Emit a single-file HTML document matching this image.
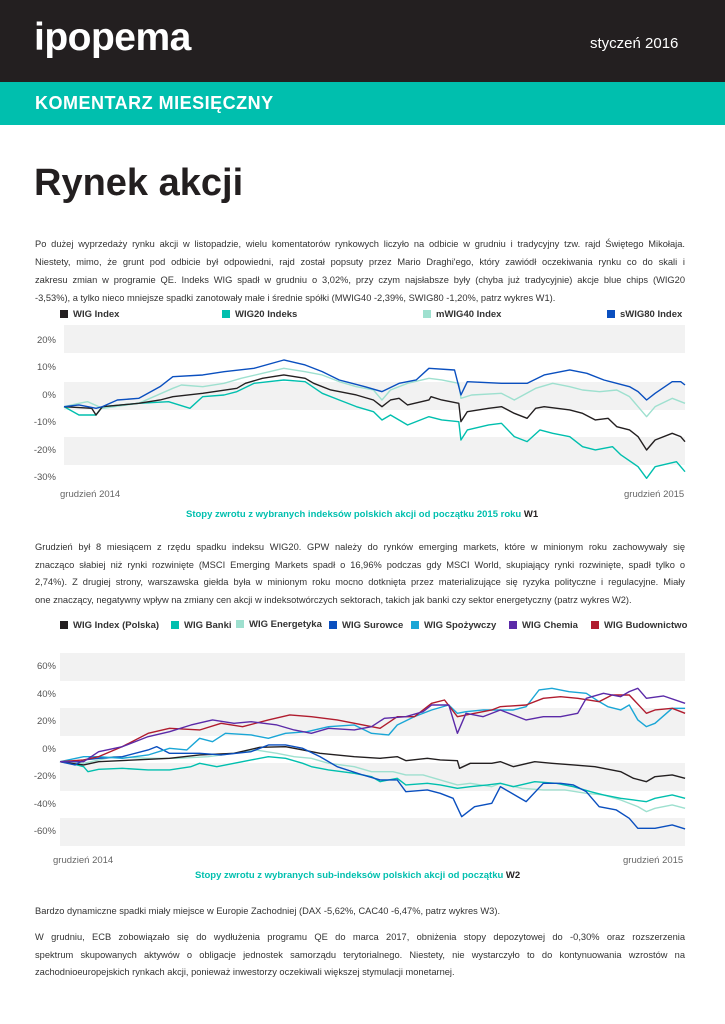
<!DOCTYPE html>
<html><head><meta charset="utf-8"><style>
*{margin:0;padding:0;box-sizing:border-box}
body{width:725px;height:1024px;background:#fff;position:relative;overflow:hidden;font-family:"Liberation Sans",sans-serif;color:#231f20}
.a{position:absolute;white-space:nowrap}
.p{position:absolute;left:35px;width:650px;font-size:9.3px;text-align:justify;text-align-last:justify;white-space:nowrap;color:#333}
.lg{position:absolute;font-size:9.5px;font-weight:bold;color:#333;white-space:nowrap}
.lg i{display:inline-block;width:8px;height:8px;margin-right:5px;vertical-align:-1px}
.yl{position:absolute;font-size:9.5px;color:#555;text-align:right;width:26px}
</style></head><body>
<div class="a" style="left:0;top:0;width:725px;height:82px;background:#231f20"></div>
<div class="a" style="left:34px;top:16px;font-size:39px;font-weight:bold;color:#fff;letter-spacing:-0.5px">ipopema</div>
<div class="a" style="left:590px;top:35px;font-size:15px;color:#fff">styczeń 2016</div>
<div class="a" style="left:0;top:82px;width:725px;height:43px;background:#00bfae"></div>
<div class="a" style="left:35px;top:93px;font-size:18px;font-weight:bold;color:#fff;letter-spacing:0.5px">KOMENTARZ MIESIĘCZNY</div>
<div class="a" style="left:34px;top:162px;font-size:38px;font-weight:bold;color:#231f20">Rynek akcji</div>

<div class="p" style="top:239px">Po dużej wyprzedaży rynku akcji w listopadzie, wielu komentatorów rynkowych liczyło na odbicie w grudniu i tradycyjny tzw. rajd Świętego Mikołaja.</div>
<div class="p" style="top:257px">Niestety, mimo, że grunt pod odbicie był odpowiedni, rajd został popsuty przez Mario Draghi'ego, który zawiódł oczekiwania rynku co do skali i</div>
<div class="p" style="top:275px">zakresu zmian w programie QE. Indeks WIG spadł w grudniu o 3,02%, przy czym najsłabsze były (chyba już tradycyjnie) akcje blue chips (WIG20</div>
<div class="p" style="top:293px;text-align-last:left">-3,53%), a tylko nieco mniejsze spadki zanotowały małe i średnie spółki (MWIG40 -2,39%, SWIG80 -1,20%, patrz wykres W1).</div>

<div class="lg" style="left:60px;top:309px"><i style="background:#231f20"></i>WIG Index</div>
<div class="lg" style="left:222px;top:309px"><i style="background:#00bfae"></i>WIG20 Indeks</div>
<div class="lg" style="left:423px;top:309px"><i style="background:#9ee0cf"></i>mWIG40 Index</div>
<div class="lg" style="left:607px;top:309px"><i style="background:#0a4fbf"></i>sWIG80 Index</div>

<div class="a" style="left:64px;top:325px;width:621px;height:28px;background:#f2f2f2"></div>
<div class="a" style="left:64px;top:382px;width:621px;height:28px;background:#f2f2f2"></div>
<div class="a" style="left:64px;top:437px;width:621px;height:28px;background:#f2f2f2"></div>
<div class="yl" style="left:30px;top:335px">20%</div>
<div class="yl" style="left:30px;top:362px">10%</div>
<div class="yl" style="left:30px;top:390px">0%</div>
<div class="yl" style="left:30px;top:417px">-10%</div>
<div class="yl" style="left:30px;top:445px">-20%</div>
<div class="yl" style="left:30px;top:472px">-30%</div>
<div class="a" style="left:60px;top:489px;font-size:9.5px;color:#666">grudzień 2014</div>
<div class="a" style="left:624px;top:489px;font-size:9.5px;color:#666">grudzień 2015</div>
<div class="a" style="left:186px;top:509px;font-size:9.5px;font-weight:bold;color:#00bfae">Stopy zwrotu z wybranych indeksów polskich akcji od początku 2015 roku <span style="color:#231f20">W1</span></div>

<svg class="a" style="left:0;top:0" width="725" height="1024">
<g transform="matrix(0.4268 0 0 0.3333 32 300)" fill="none" stroke-width="1.4" stroke-linejoin="round">
<polyline vector-effect="non-scaling-stroke" stroke="#9ee0cf" points="75,320 110,310 130,305 165,325 250,310 330,265 350,255 400,260 450,250 490,235 540,220 590,205 640,215 680,225 720,245 760,260 800,270 820,300 840,270 880,250 930,235 960,240 1000,250 1005,295 1030,285 1100,280 1130,300 1180,265 1220,250 1260,260 1290,270 1330,275 1370,270 1400,290 1420,320 1440,350 1460,320 1500,295 1530,310"/>
<polyline vector-effect="non-scaling-stroke" stroke="#00bfae" points="75,320 110,345 150,345 165,320 250,310 320,305 370,325 400,290 450,285 480,275 520,250 590,240 640,245 680,280 720,300 760,320 800,335 820,360 840,345 880,375 930,350 960,360 1000,365 1005,420 1020,390 1070,375 1100,370 1130,410 1160,425 1190,390 1220,400 1260,410 1290,440 1320,450 1360,440 1380,465 1420,500 1440,535 1460,500 1510,485 1530,515"/>
<polyline vector-effect="non-scaling-stroke" stroke="#231f20" points="75,320 140,325 150,345 165,320 250,310 300,300 330,290 400,280 480,265 500,250 540,235 590,225 640,235 660,250 700,270 760,285 800,300 820,320 840,300 860,295 880,315 930,300 935,290 960,300 1000,310 1005,365 1020,335 1070,325 1100,320 1130,340 1160,355 1180,325 1200,320 1260,330 1290,340 1320,360 1350,355 1370,380 1400,390 1420,410 1440,450 1460,420 1500,400 1520,410 1530,425"/>
<polyline vector-effect="non-scaling-stroke" stroke="#0a4fbf" points="75,320 110,315 150,325 165,320 200,300 250,295 300,260 330,230 400,225 450,215 520,205 590,180 640,195 680,215 720,240 780,260 820,275 860,250 900,240 930,205 990,210 1005,285 1020,245 1100,250 1160,250 1200,225 1260,210 1300,220 1340,240 1400,260 1420,275 1440,300 1460,280 1500,245 1520,245 1530,255"/>
</g>
</svg>

<div class="p" style="top:542px">Grudzień był 8 miesiącem z rzędu spadku indeksu WIG20. GPW należy do rynków emerging markets, które w minionym roku zachowywały się</div>
<div class="p" style="top:560px">znacząco słabiej niż rynki rozwinięte (MSCI Emerging Markets spadł o 16,96% podczas gdy MSCI World, skupiający rynki rozwinięte, spadł tylko o</div>
<div class="p" style="top:577px">2,74%). Z drugiej strony, warszawska giełda była w minionym roku mocno dotknięta przez materializujące się ryzyka polityczne i regulacyjne. Miały</div>
<div class="p" style="top:595px;text-align-last:left">one znaczący, negatywny wpływ na zmiany cen akcji w indeksotwórczych sektorach, takich jak banki czy sektor energetyczny (patrz wykres W2).</div>

<div class="lg" style="left:60px;top:620px"><i style="background:#231f20"></i>WIG Index (Polska)</div>
<div class="lg" style="left:171px;top:620px"><i style="background:#00bfae"></i>WIG Banki</div>
<div class="lg" style="left:236px;top:619px"><i style="background:#9ee0cf"></i>WIG Energetyka</div>
<div class="lg" style="left:329px;top:620px"><i style="background:#0a4fbf"></i>WIG Surowce</div>
<div class="lg" style="left:411px;top:620px"><i style="background:#1aa6d6"></i>WIG Spożywczy</div>
<div class="lg" style="left:509px;top:620px"><i style="background:#5b2aa8"></i>WIG Chemia</div>
<div class="lg" style="left:591px;top:620px"><i style="background:#b01c2e"></i>WIG Budownictwo</div>

<div class="a" style="left:60px;top:653px;width:625px;height:28px;background:#f2f2f2"></div>
<div class="a" style="left:60px;top:708px;width:625px;height:28px;background:#f2f2f2"></div>
<div class="a" style="left:60px;top:763px;width:625px;height:28px;background:#f2f2f2"></div>
<div class="a" style="left:60px;top:818px;width:625px;height:28px;background:#f2f2f2"></div>
<div class="yl" style="left:30px;top:661px">60%</div>
<div class="yl" style="left:30px;top:689px">40%</div>
<div class="yl" style="left:30px;top:716px">20%</div>
<div class="yl" style="left:30px;top:744px">0%</div>
<div class="yl" style="left:30px;top:771px">-20%</div>
<div class="yl" style="left:30px;top:799px">-40%</div>
<div class="yl" style="left:30px;top:826px">-60%</div>
<div class="a" style="left:53px;top:855px;font-size:9.5px;color:#666">grudzień 2014</div>
<div class="a" style="left:623px;top:855px;font-size:9.5px;color:#666">grudzień 2015</div>
<div class="a" style="left:195px;top:870px;font-size:9.5px;font-weight:bold;color:#00bfae">Stopy zwrotu z wybranych sub-indeksów polskich akcji od początku <span style="color:#231f20">W2</span></div>

<svg class="a" style="left:0;top:0" width="725" height="1024">
<g transform="matrix(0.4296 0 0 0.3333 27.8 610)" fill="none" stroke-width="1.4" stroke-linejoin="round">
<polyline vector-effect="non-scaling-stroke" stroke="#9ee0cf" points="75,455 130,460 200,440 280,445 350,445 420,440 480,430 530,420 580,430 620,440 660,445 700,460 760,470 800,485 850,485 880,495 920,495 960,510 1000,525 1030,520 1080,530 1100,520 1150,535 1200,540 1250,540 1300,550 1340,555 1380,570 1420,590 1440,605 1460,595 1500,585 1530,595"/>
<polyline vector-effect="non-scaling-stroke" stroke="#00bfae" points="75,455 100,460 130,470 140,485 165,478 220,475 280,480 330,480 380,470 400,460 440,470 480,460 520,450 560,440 600,445 640,460 660,470 700,480 760,490 800,500 820,515 860,505 880,525 930,520 960,525 1000,535 1030,530 1070,525 1100,520 1130,530 1180,515 1230,520 1270,530 1310,545 1340,555 1380,565 1410,570 1440,575 1460,565 1500,555 1530,565"/>
<polyline vector-effect="non-scaling-stroke" stroke="#231f20" points="75,455 100,460 130,465 165,455 250,450 330,445 400,435 480,430 540,412 600,410 640,420 680,430 760,440 820,445 860,440 880,452 930,445 960,450 1000,452 1005,475 1030,460 1080,460 1100,455 1130,470 1180,455 1220,460 1270,465 1320,470 1380,485 1410,505 1440,515 1460,500 1500,495 1530,505"/>
<polyline vector-effect="non-scaling-stroke" stroke="#0a4fbf" points="75,455 110,465 130,450 165,445 220,440 280,420 300,410 330,430 400,430 450,435 520,425 560,405 600,405 640,415 680,440 720,470 780,495 820,510 860,510 880,545 930,540 960,550 990,565 1010,620 1040,590 1080,580 1100,530 1140,560 1160,575 1200,520 1240,520 1270,525 1300,545 1330,590 1370,600 1400,625 1420,655 1460,655 1500,645 1530,657"/>
<polyline vector-effect="non-scaling-stroke" stroke="#1aa6d6" points="75,455 130,440 165,440 220,445 280,435 330,415 370,420 400,385 430,395 460,370 520,375 560,385 600,370 650,365 700,350 760,345 800,370 840,375 860,345 900,320 940,300 980,285 1000,310 1020,305 1060,300 1100,300 1130,300 1160,290 1190,240 1220,235 1260,245 1300,250 1330,275 1350,290 1380,300 1400,285 1420,330 1440,350 1460,340 1500,295 1530,295"/>
<polyline vector-effect="non-scaling-stroke" stroke="#b01c2e" points="75,455 130,450 165,440 220,410 280,370 330,355 400,360 450,340 500,350 560,330 610,315 660,320 720,330 780,345 820,355 860,320 900,320 940,280 970,270 1000,320 1040,310 1080,300 1100,290 1160,285 1200,265 1240,260 1280,265 1330,275 1360,255 1400,255 1440,310 1460,300 1500,295 1530,310"/>
<polyline vector-effect="non-scaling-stroke" stroke="#5b2aa8" points="75,455 130,455 165,425 220,410 280,380 330,365 380,345 430,330 480,340 520,335 580,345 620,360 660,370 700,355 760,360 800,350 830,325 880,320 920,305 940,285 980,285 1000,370 1020,310 1060,320 1100,300 1130,315 1160,330 1200,320 1240,320 1280,310 1300,265 1340,250 1380,260 1400,245 1420,235 1440,265 1480,258 1530,280"/>
</g>
</svg>

<div class="p" style="top:906px;text-align-last:left">Bardzo dynamiczne spadki miały miejsce w Europie Zachodniej (DAX -5,62%, CAC40 -6,47%, patrz wykres W3).</div>
<div class="p" style="top:932px">W grudniu, ECB zobowiązało się do wydłużenia programu QE do marca 2017, obniżenia stopy depozytowej do -0,30% oraz rozszerzenia</div>
<div class="p" style="top:950px">spektrum skupowanych aktywów o obligacje jednostek samorządu terytorialnego. Niestety, nie wystarczyło to do kontynuowania wzrostów na</div>
<div class="p" style="top:967px;text-align-last:left">zachodnioeuropejskich rynkach akcji, ponieważ inwestorzy oczekiwali większej stymulacji monetarnej.</div>
</body></html>
